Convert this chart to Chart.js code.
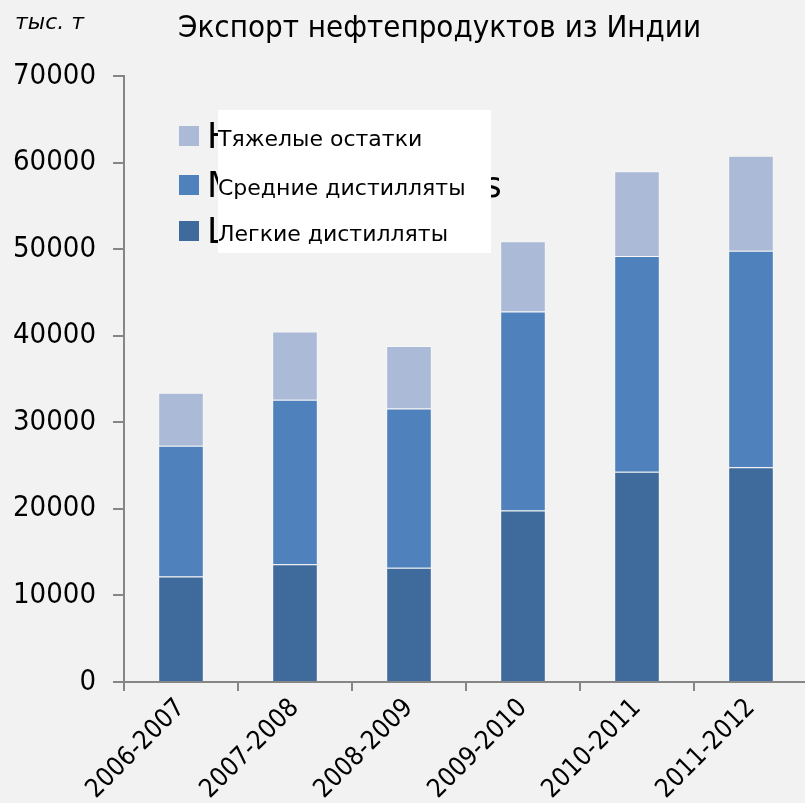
<!DOCTYPE html>
<html>
<head>
<meta charset="utf-8">
<script src="https://cdn.jsdelivr.net/npm/chart.js@4"></script>
<style>
  html, body { margin: 0; padding: 0; background: #f2f2f2; overflow: hidden; }
  #wrap { width: 812px; height: 803px; }
</style>
</head>
<body>
<div id="wrap"><canvas id="chart-1"></canvas></div>
<script>
// данные с картинки, тыс. т
const years = ['2006-2007', '2007-2008', '2008-2009', '2009-2010', '2010-2011', '2011-2012'];
const legkie = [12200, 13600, 13200, 19800, 24300, 24800];
const srednie = [15100, 19000, 18400, 23000, 24900, 25000];
const tyazhelye = [6100, 7900, 7200, 8100, 9800, 11000];
const yTicks = [0, 10000, 20000, 30000, 40000, 50000, 60000, 70000];

const FONT = "'DejaVu Sans Condensed', 'DejaVu Sans', sans-serif";
const FONT2 = "'DejaVu Sans', sans-serif";
const axisColor = '#868686';

// подписи легенды поверх белой плашки (старый английский текст торчит из-под неё)
const legendPlugin = {
  id: 'legendBox',
  afterDraw(chart) {
    const c = chart.ctx;
    c.save();
    const rows = [
      { ds: 2, en: 'Heavy residues', y: 148 },
      { ds: 1, en: 'Middle distillates', y: 197 },
      { ds: 0, en: 'Light distillates', y: 243 },
    ];
    c.fillStyle = '#000';
    c.font = '35px ' + FONT2;
    c.textBaseline = 'alphabetic';
    rows.forEach(r => c.fillText(r.en, 207, r.y));
    c.fillStyle = '#ffffff';
    c.fillRect(218, 110, 273, 143);
    c.font = '22px ' + FONT2;
    rows.forEach(r => {
      const ds = chart.data.datasets[r.ds];
      c.fillStyle = ds.backgroundColor;
      c.fillRect(179, r.y - 22, 20, 20);
      c.fillStyle = '#000';
      c.fillText(ds.label, 218, r.y - 2);
    });

    // заголовок и единицы
    c.font = '31px ' + FONT;
    c.fillText('Экспорт нефтепродуктов из Индии', 178, 37);
    c.font = 'italic 22px ' + FONT2;
    c.fillText('тыс. т', 15, 29);
    c.restore();
  }
};

const ctx1 = document.getElementById('chart-1').getContext('2d');
const chart1 = new Chart(ctx1, {
  type: 'bar',
  data: {
    labels: years,
    datasets: [
      { label: 'Легкие дистилляты', data: legkie, backgroundColor: '#3f6a9c' },
      { label: 'Средние дистилляты', data: srednie, backgroundColor: '#4f81bd' },
      { label: 'Тяжелые остатки', data: tyazhelye, backgroundColor: '#aabad7' },
    ].map(d => Object.assign(d, {
      borderColor: 'rgba(255,255,255,0.45)',
      borderWidth: 1,
      categoryPercentage: 1,
      barPercentage: 0.4,
    })),
  },
  options: {
    responsive: true,
    maintainAspectRatio: false,
    animation: false,
    layout: { padding: { top: 76, right: 4, left: 0, bottom: 0 } },
    plugins: {
      legend: { display: false },
      title: { display: false },
      tooltip: { enabled: false },
    },
    scales: {
      x: {
        stacked: true,
        grid: { offset: true, drawOnChartArea: false, tickLength: 9, color: axisColor, lineWidth: 2 },
        border: { color: axisColor, width: 2 },
        ticks: {
          color: '#000',
          font: { family: FONT, size: 26 },
          minRotation: 45,
          maxRotation: 45,
          padding: 2,
        },
        afterFit(scale) { scale.height = 121; },
      },
      y: {
        stacked: true,
        min: 0,
        max: 70000,
        afterBuildTicks(scale) { scale.ticks = yTicks.map(v => ({ value: v })); },
        grid: { drawOnChartArea: false, tickLength: 11, color: axisColor, lineWidth: 2 },
        border: { color: axisColor, width: 2 },
        ticks: {
          color: '#000',
          font: { family: FONT, size: 29 },
          padding: 17,
          callback: v => String(v),
        },
        afterFit(scale) { scale.width = 124; },
      },
    },
  },
  plugins: [legendPlugin],
});
</script>
</body>
</html>
